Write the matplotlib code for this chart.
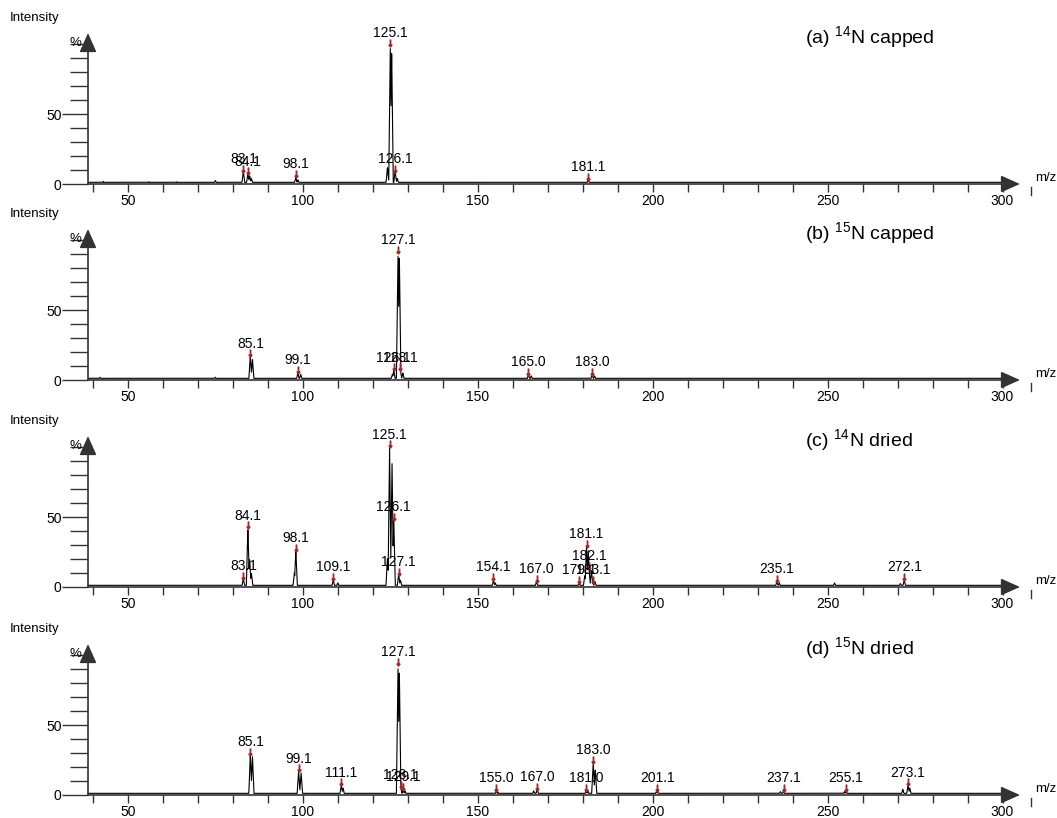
import numpy as np
import matplotlib
matplotlib.use("Agg")
import matplotlib.pyplot as plt

plt.rcParams['font.family'] = ['Liberation Sans', 'DejaVu Sans']
plt.rcParams['mathtext.fontset'] = 'custom'
plt.rcParams['mathtext.rm'] = 'Liberation Sans'

# --- datos ---
titulos = [r'(a) $\mathrm{^{14}}$N capped', r'(b) $\mathrm{^{15}}$N capped',
           r'(c) $\mathrm{^{14}}$N dried', r'(d) $\mathrm{^{15}}$N dried']

# picos etiquetados: (m/z, intensidad %, etiqueta)
picos_a = [(83.0, 9, '83.1'), (84.3, 7, '84.1'), (98.0, 5, '98.1'),
           (125.0, 99, '125.1'), (126.4, 9, '126.1'), (181.6, 3, '181.1')]
picos_b = [(85.0, 17, '85.1'), (98.6, 5, '99.1'), (126.0, 7, '126.1'),
           (127.2, 91, '127.1'), (127.9, 7, '128.1'), (164.5, 4, '165.0'),
           (182.7, 4, '183.0')]
picos_c = [(83.0, 6, '83.1'), (84.3, 42, '84.1'), (98.0, 26, '98.1'),
           (108.7, 5, '109.1'), (124.8, 100, '125.1'), (126.0, 48, '126.1'),
           (127.4, 9, '127.1'), (154.5, 5, '154.1'), (166.8, 4, '167.0'),
           (179.0, 3, '179.1'), (181.1, 29, '181.1'), (181.8, 13, '182.1'),
           (182.9, 3, '183.1'), (235.5, 4, '235.1'), (271.9, 5, '272.1')]
picos_d = [(85.0, 29, '85.1'), (98.8, 17, '99.1'), (111.0, 7, '111.1'),
           (128.0, 5, '128.1'), (128.7, 4, '129.1'), (155.3, 3, '155.0'),
           (127.2, 93, '127.1'), (167.0, 4, '167.0'), (181.0, 3, '181.0'),
           (183.0, 23, '183.0'), (201.3, 3, '201.1'), (237.4, 3, '237.1'),
           (255.3, 3, '255.1'), (273.0, 7, '273.1')]

# picos sin etiqueta (hombros y ruido visible)
extra_a = [(75.0, 2.5), (84.8, 6), (85.3, 4), (124.2, 12), (125.4, 95),
           (127.0, 4), (98.6, 3), (43, 1.8), (56, 1.6), (64, 1.6)]
extra_b = [(85.6, 15), (125.6, 4), (128.6, 5), (99.4, 4), (42, 2),
           (75, 2), (165.3, 3), (183.4, 3), (127.6, 88)]
extra_c = [(84.8, 20), (85.3, 10), (97.6, 10), (124.2, 21), (125.5, 90),
           (127.9, 5), (180.6, 8), (181.6, 26), (182.5, 12), (183.5, 4),
           (252.0, 3), (270.8, 2.5), (236.2, 3), (155.0, 3), (110, 3)]
extra_d = [(85.6, 28), (99.5, 16), (111.5, 5), (129.2, 3), (127.6, 88),
           (183.6, 18), (181.5, 3), (166.0, 3), (201.0, 2), (236.5, 2.5),
           (254.8, 2.5), (271.5, 4), (273.5, 5), (155.8, 2)]

picos = [picos_a, picos_b, picos_c, picos_d]
extras = [extra_a, extra_b, extra_c, extra_d]
ceros_px = [184, 380, 587, 795]   # posicion del cero de cada panel

x_min, x_max = 38.6, 305.0
y_max = 108
ancho_fig, alto_fig = 1057, 818

fig = plt.figure(figsize=(ancho_fig / 100, alto_fig / 100), dpi=100)
gris = '#333333'
rojo = '#9e2a2a'

mz = np.linspace(x_min, x_max - 2, 9000)

for i in range(4):
    cero = ceros_px[i]
    ax = fig.add_axes([88 / ancho_fig, (alto_fig - cero) / alto_fig,
                       (1020 - 88) / ancho_fig, 151 / alto_fig])
    ax.set_xlim(x_min, x_max)
    ax.set_ylim(0, y_max)
    for s in ax.spines.values():
        s.set_visible(False)

    # espectro: linea base + picos triangulares estrechos
    traza = np.full_like(mz, 1.2)
    for (m, h, _) in picos[i]:
        traza = np.maximum(traza, h * (1 - np.abs(mz - m) / 0.45))
    for (m, h) in extras[i]:
        traza = np.maximum(traza, h * (1 - np.abs(mz - m) / 0.45))
    ax.plot(mz, traza, color='black', lw=0.8)

    # ejes con flecha
    estilo = '-|>,head_length=0.9,head_width=0.4'
    ax.annotate('', xy=(0, 1), xytext=(0, 0), xycoords='axes fraction',
                arrowprops=dict(arrowstyle=estilo, mutation_scale=13,
                                color=gris, lw=1.2, shrinkA=0, shrinkB=0))
    ax.annotate('', xy=(1, 0), xytext=(0, 0), xycoords='axes fraction',
                arrowprops=dict(arrowstyle=estilo, mutation_scale=13,
                                color=gris, lw=1.2, shrinkA=0, shrinkB=0))

    ax.set_xticks(np.arange(40, 301, 10), minor=True)
    ax.set_xticks(np.arange(50, 301, 50))
    ax.tick_params(axis='x', which='both', direction='out', length=6,
                   width=1, color=gris, labelsize=10, pad=1)
    ax.set_yticks([0, 50])
    ax.set_yticks(np.arange(10, 101, 10), minor=True)
    ax.tick_params(axis='y', which='major', length=19, width=1, color=gris,
                   labelsize=10, pad=0)
    ax.tick_params(axis='y', which='minor', length=13, width=1, color=gris)

    # etiquetas de picos
    for (m, h, txt) in picos[i]:
        ax.plot(m, h + 2.0, marker=r'$\downarrow$', ms=5, color=rojo,
                lw=0)
        ax.annotate(txt, xy=(m, h), xytext=(0, 4), textcoords='offset points',
                    ha='center', va='bottom', fontsize=10)

    ax.text(-0.0837, 1.1, 'Intensity', transform=ax.transAxes, fontsize=9.5,
            ha='left', va='center')
    ax.text(-0.014, 0.935, '%', transform=ax.transAxes, fontsize=9.5,
            ha='center', va='center')
    ax.text(1.016, 0.0, 'm/z', transform=ax.transAxes, fontsize=9.5,
            ha='left', va='bottom')
    ax.plot([1.0115, 1.0115], [-0.02, -0.07], transform=ax.transAxes,
            color=gris, lw=1, clip_on=False)
    ax.text(0.769, 0.97, titulos[i], transform=ax.transAxes, fontsize=14,
            ha='left', va='center')

fig.savefig('out.png', dpi=100)
